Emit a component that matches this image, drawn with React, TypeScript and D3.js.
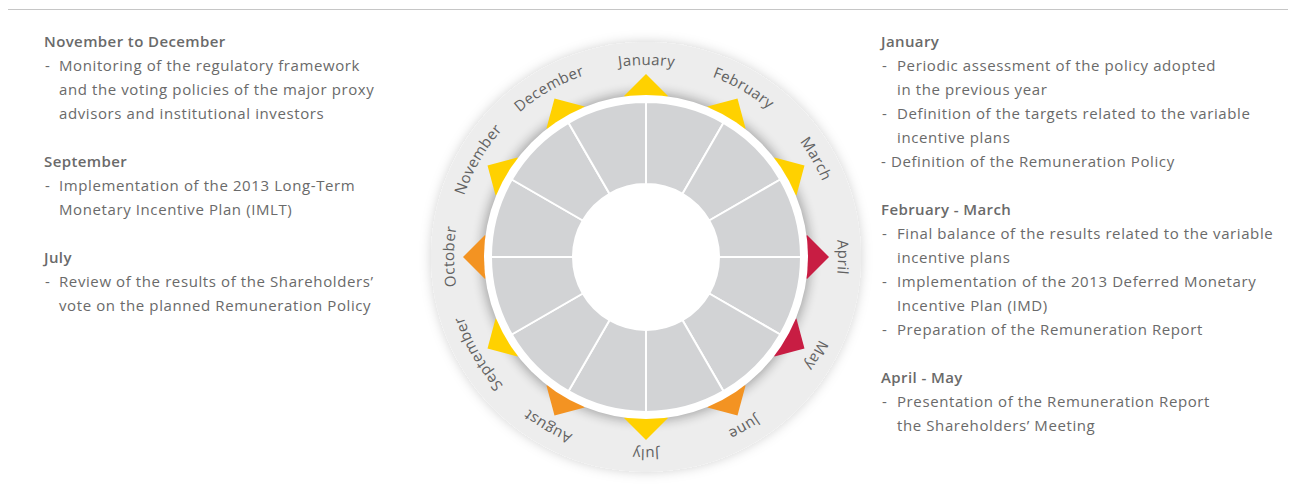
import React from 'react';
import * as d3 from 'd3';

const months = [
  'January', 'February', 'March', 'April', 'May', 'June',
  'July', 'August', 'September', 'October', 'November', 'December',
];
// marker colour of each month
const markerKinds = [
  'yellow', 'yellow', 'yellow', 'red', 'red', 'orange',
  'yellow', 'orange', 'yellow', 'orange', 'yellow', 'yellow',
];
const kindColors = { yellow: '#ffd100', orange: '#f39322', red: '#c81d43' };

const leftTitles = ['November to December', 'September', 'July'];
const leftItems = [
  [['Monitoring of the regulatory framework', 'and the voting policies of the major proxy', 'advisors and institutional investors']],
  [['Implementation of the 2013 Long-Term', 'Monetary Incentive Plan (IMLT)']],
  [['Review of the results of the Shareholders\u2019', 'vote on the planned Remuneration Policy']],
];

const rightTitles = ['January', 'February - March', 'April - May'];
const rightItems = [
  [
    ['Periodic assessment of the policy adopted', 'in the previous year'],
    ['Definition of the targets related to the variable', 'incentive plans'],
    ['*Definition of the Remuneration Policy'],
  ],
  [
    ['Final balance of the results related to the variable', 'incentive plans'],
    ['Implementation of the 2013 Deferred Monetary', 'Incentive Plan (IMD)'],
    ['Preparation of the Remuneration Report'],
  ],
  [['Presentation of the Remuneration Report', 'the Shareholders\u2019 Meeting']],
];

const W = 1289;
const H = 493;
const FONT = '"Open Sans", sans-serif';
const TXT = '#6a6a6a';

function Notes({ titles, items, x, indent }) {
  const lineH = 24;
  const rows = [];
  let y = 47;
  titles.forEach((t, bi) => {
    rows.push(<text key={'t' + bi} x={x} y={y} fontWeight={600} letterSpacing={0.4}>{t}</text>);
    y += lineH;
    items[bi].forEach((lines, li) => {
      lines.forEach((ln, k) => {
        if (ln.startsWith('*')) {
          rows.push(<text key={`b${bi}-${li}-${k}`} x={x} y={y}>{'- ' + ln.slice(1)}</text>);
        } else {
          if (k === 0) rows.push(<text key={`d${bi}-${li}`} x={x + 1} y={y}>-</text>);
          rows.push(<text key={`b${bi}-${li}-${k}`} x={x + indent} y={y}>{ln}</text>);
        }
        y += lineH;
      });
    });
    y += lineH;
  });
  return <g fontFamily={FONT} fontSize={15} fill={TXT} letterSpacing={0.6}>{rows}</g>;
}

export default function App() {
  const cx = 646;
  const cy = 257;
  const angle = d3.scaleLinear().domain([0, 12]).range([0, 2 * Math.PI]);
  const pt = (a, r) => [cx + r * Math.sin(a), cy - r * Math.cos(a)];

  const segArc = d3.arc().innerRadius(73).outerRadius(155);
  const segments = months.map((m, i) => segArc({ startAngle: angle(i), endAngle: angle(i + 1) }));

  // diamond markers sitting on the ring at each month boundary
  const markerR = 161;
  const half = 22;
  const markers = months.map((m, i) => {
    const a = angle(i);
    const tip = pt(a, markerR + half);
    const back = pt(a, markerR - half);
    const [mx, my] = pt(a, markerR);
    const l = [mx - half * Math.cos(a), my - half * Math.sin(a)];
    const r = [mx + half * Math.cos(a), my + half * Math.sin(a)];
    return `M${tip}L${r}L${back}L${l}Z`;
  });

  const labelR = 192;
  const a0 = angle(0.5);
  const p0 = pt(a0, labelR);
  const p1 = pt(a0 + Math.PI, labelR);
  const labelPath = `M${p0}A${labelR},${labelR} 0 1 1 ${p1}A${labelR},${labelR} 0 1 1 ${p0}`;
  const offset = (i) => (((angle(i) - a0) + 2 * Math.PI) % (2 * Math.PI)) * labelR;

  return (
    <svg width={W} height={H} style={{ position: 'absolute', left: 0, top: 0, background: '#fff' }}>
      <defs>
        <filter id="discShadow" x="-20%" y="-20%" width="140%" height="140%">
          <feDropShadow dx="0" dy="0" stdDeviation="6" floodColor="#000" floodOpacity="0.18" />
        </filter>
        <filter id="blur" x="-20%" y="-20%" width="140%" height="140%">
          <feGaussianBlur stdDeviation="6" />
        </filter>
        <path id="labelPath" d={labelPath} />
      </defs>

      <line x1={8} x2={1288} y1={9.5} y2={9.5} stroke="#c6c6c6" strokeWidth={1} />

      <Notes titles={leftTitles} items={leftItems} x={44} indent={15} />
      <Notes titles={rightTitles} items={rightItems} x={881} indent={16} />

      <circle cx={cx} cy={cy} r={215} fill="#ededed" filter="url(#discShadow)" />
      <circle cx={cx} cy={cy} r={164} fill="#000" opacity={0.32} filter="url(#blur)" />

      {markers.map((d, i) => (
        <path key={months[i]} d={d} fill={kindColors[markerKinds[i]]} />
      ))}

      <circle cx={cx} cy={cy} r={162} fill="#fff" />
      <g transform={`translate(${cx},${cy})`}>
        {segments.map((d, i) => (
          <path key={months[i]} d={d} fill="#d2d3d5" stroke="#fff" strokeWidth={2} />
        ))}
      </g>
      <circle cx={cx} cy={cy} r={73} fill="#fff" />

      <g fontFamily={FONT} fontSize={15} fill="#626262" letterSpacing={0.4}>
        {months.map((m, i) => (
          <text key={m}>
            <textPath href="#labelPath" startOffset={offset(i)} textAnchor="middle">{m}</textPath>
          </text>
        ))}
      </g>
    </svg>
  );
}
